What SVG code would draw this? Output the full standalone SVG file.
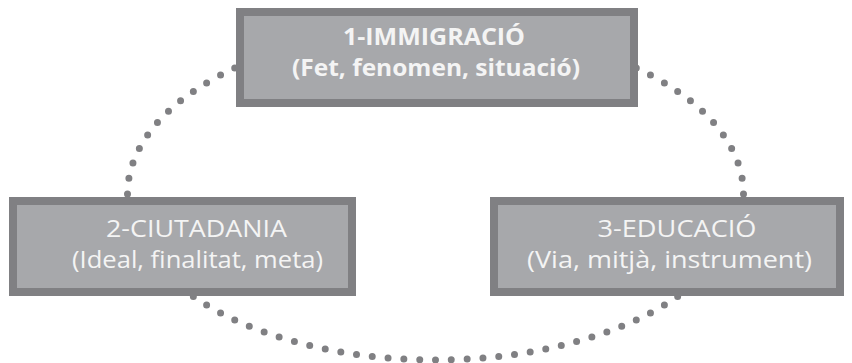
<svg xmlns="http://www.w3.org/2000/svg" width="852" height="363" viewBox="0 0 852 363">
<style>
.box{fill:#a7a8ab;stroke:#808083;stroke-width:8}
.t{fill:#f4f4f4;font-family:"Open Sans","Noto Sans","Liberation Sans",sans-serif;font-size:23px;text-anchor:middle}
.b{font-weight:bold}
.dots{fill:none;stroke:#808083;stroke-width:7;stroke-linecap:round;stroke-dasharray:0 1}
</style>
<rect width="852" height="363" fill="#ffffff"/>
<g id="connectors">
<ellipse class="dots" cx="435.5" cy="194" rx="308" ry="166" pathLength="96"/>
</g>
<g id="node1">
<rect class="box" x="240" y="12" width="394" height="91"/>
<text class="t b" x="434" y="45" textLength="182" lengthAdjust="spacingAndGlyphs">1-IMMIGRACIÓ</text>
<text class="t b" x="436" y="76" textLength="288" lengthAdjust="spacingAndGlyphs">(Fet, fenomen, situació)</text>
</g>
<g id="node2">
<rect class="box" x="13" y="201" width="339" height="91"/>
<text class="t" x="196.5" y="237" textLength="181" lengthAdjust="spacingAndGlyphs">2-CIUTADANIA</text>
<text class="t" x="197.5" y="268" textLength="251" lengthAdjust="spacingAndGlyphs">(Ideal, finalitat, meta)</text>
</g>
<g id="node3">
<rect class="box" x="494" y="201" width="346" height="91"/>
<text class="t" x="677" y="237" textLength="159" lengthAdjust="spacingAndGlyphs">3-EDUCACIÓ</text>
<text class="t" x="669.5" y="268" textLength="285" lengthAdjust="spacingAndGlyphs">(Via, mitjà, instrument)</text>
</g>
</svg>
